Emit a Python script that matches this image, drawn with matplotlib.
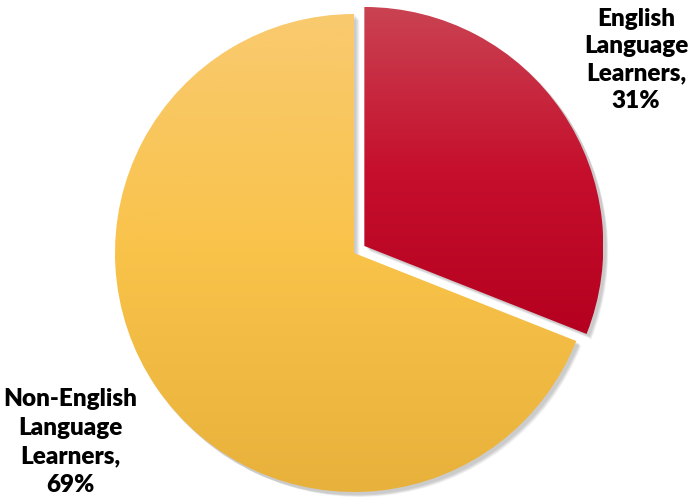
import numpy as np
import matplotlib
matplotlib.use("Agg")
import matplotlib.pyplot as plt
from matplotlib.colors import LinearSegmentedColormap

# Data
labels = ["English\nLanguage\nLearners,\n31%", "Non-English\nLanguage\nLearners,\n69%"]
values = [31, 69]
grad_colors = [["#ca4352", "#c50f2d", "#b5001f"],
               ["#f9ca6f", "#f9c34a", "#e8b13b"]]

W, H = 688, 501
fig = plt.figure(figsize=(W / 100, H / 100), dpi=100)
ax = fig.add_axes([0, 0, 1, 1])

cx, cy, r = 354, H - 253, 239
explode = [12.5, 0]  # pie explode offset is in data units here

# soft shadow
for k in range(6):
    ax.pie(values, explode=explode, startangle=90, counterclock=False,
           center=(cx + 2 + k * 0.7, cy - 2 - k * 0.7), radius=r + 1 - k * 0.3,
           wedgeprops=dict(facecolor="black", alpha=0.035, linewidth=0),
           frame=True)

wedges, _ = ax.pie(values, explode=explode, startangle=90, counterclock=False,
                   center=(cx, cy), radius=r,
                   wedgeprops=dict(linewidth=0), frame=True)

for w, cols in zip(wedges, grad_colors):
    w.set_facecolor("none")
    cmap = LinearSegmentedColormap.from_list("g", cols[::-1])
    grad = np.linspace(0, 1, 256).reshape(-1, 1)
    bb = w.get_path().get_extents(w.get_transform()).transformed(ax.transData.inverted())
    im = ax.imshow(grad, cmap=cmap, origin="lower", aspect="auto",
                   extent=[bb.x0, bb.x1, bb.y0, bb.y1], zorder=2)
    im.set_clip_path(w)

ax.set_xlim(0, W)
ax.set_ylim(0, H)
ax.set_aspect("equal")
ax.axis("off")

font = ["Lato", "DejaVu Sans"]
ax.text(636, H - 60, labels[0], ha="center", va="center", fontsize=17.5,
        fontweight="heavy", family=font, linespacing=1.28, zorder=5)
ax.text(70, H - 442, labels[1], ha="center", va="center", fontsize=17.5,
        fontweight="heavy", family=font, linespacing=1.38, zorder=5)

fig.savefig("out.png", dpi=100, facecolor="white")
